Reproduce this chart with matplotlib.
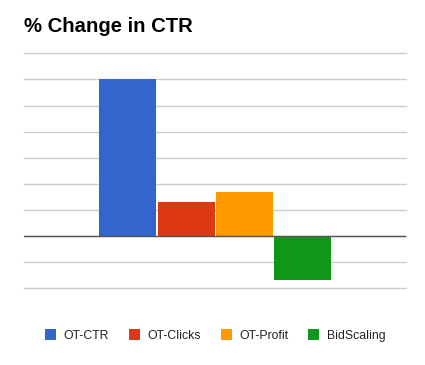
import matplotlib
matplotlib.use("Agg")
import matplotlib.pyplot as plt
from matplotlib.patches import Patch

plt.rcParams['font.family'] = ['Liberation Sans', 'DejaVu Sans']

# data (grid step = 10)
series = ['OT-CTR', 'OT-Clicks', 'OT-Profit', 'BidScaling']
changes = [60, 13, 17, -17]
colors = ['#3366cc', '#dc3912', '#ff9900', '#109618']
grid_ticks = [-20, -10, 0, 10, 20, 30, 40, 50, 60, 70]

fig = plt.figure(figsize=(4.25, 3.65), dpi=100)
ax = fig.add_axes([0.0572, 0.2101, 0.8974, 0.6438])

for i, (name, val, col) in enumerate(zip(series, changes, colors)):
    ax.bar(i, val, width=0.98, color=col, zorder=3)

ax.set_xlim(-1.777, 4.77)
ax.set_ylim(-20, 70)
ax.set_yticks(grid_ticks)
ax.set_xticks([])
ax.tick_params(left=False, labelleft=False)
ax.grid(axis='y', color='#cccccc', linewidth=1.0, zorder=0)
for gl in ax.get_ygridlines():
    gl.set_clip_on(False)
ax.axhline(0, color='#555555', linewidth=1.0, zorder=4)
for s in ax.spines.values():
    s.set_visible(False)

fig.text(24 / 425, 1 - 32 / 365, '% Change in CTR', fontsize=14.6,
         fontweight='bold', color='#000000', va='baseline', ha='left')

handles = [Patch(facecolor=c, edgecolor='none') for c in colors]
fig.legend(handles, series, loc='center', bbox_to_anchor=(0.506, 1 - 335.5 / 365),
           ncol=4, frameon=False, fontsize=8.8, handlelength=0.9,
           handleheight=0.9, handletextpad=0.6, columnspacing=1.65,
           labelcolor='#222222')

fig.savefig('out.png', dpi=100, facecolor='white')
